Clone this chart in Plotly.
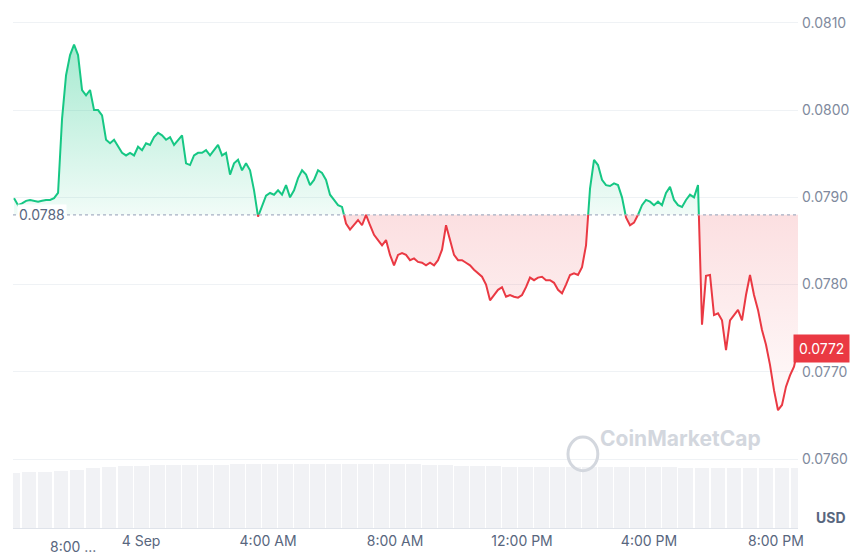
import numpy as np
import pandas as pd
import plotly.graph_objects as go

base = 0.0788
price = [0.07899, 0.07891, 0.07893, 0.07896, 0.07897, 0.07896, 0.07895, 0.07896, 0.07897, 0.07897,
         0.07899, 0.07905, 0.07990, 0.08040, 0.08063, 0.08075, 0.08063, 0.08023, 0.08017, 0.08023,
         0.08000, 0.08000, 0.07994, 0.07966, 0.07962, 0.07966, 0.07958, 0.07951, 0.07948, 0.07951,
         0.07948, 0.07958, 0.07954, 0.07962, 0.07960, 0.07969, 0.07974, 0.07971, 0.07966, 0.07969,
         0.07960, 0.07966, 0.07971, 0.07939, 0.07937, 0.07948, 0.07951, 0.07951, 0.07954, 0.07948,
         0.07954, 0.07960, 0.07948, 0.07951, 0.07926, 0.07939, 0.07943, 0.07931, 0.07939, 0.07931,
         0.07908, 0.07878, 0.07890, 0.07902, 0.07905, 0.07903, 0.07908, 0.07903, 0.07914, 0.07900,
         0.07908, 0.07922, 0.07931, 0.07926, 0.07914, 0.07920, 0.07931, 0.07928, 0.07920, 0.07903,
         0.07897, 0.07891, 0.07889, 0.07870, 0.07863, 0.07868, 0.07874, 0.07868, 0.07880, 0.07868,
         0.07857, 0.07851, 0.07845, 0.07851, 0.07834, 0.07822, 0.07834, 0.07836, 0.07834, 0.07828,
         0.07830, 0.07826, 0.07825, 0.07822, 0.07825, 0.07822, 0.07828, 0.07840, 0.07868, 0.07851,
         0.07834, 0.07828, 0.07828, 0.07825, 0.07822, 0.07817, 0.07813, 0.07809, 0.07800, 0.07782,
         0.07788, 0.07794, 0.07797, 0.07786, 0.07788, 0.07786, 0.07785, 0.07788, 0.07797, 0.07808,
         0.07805, 0.07808, 0.07809, 0.07805, 0.07805, 0.07802, 0.07794, 0.07790, 0.07800, 0.07811,
         0.07813, 0.07811, 0.07820, 0.07845, 0.07910, 0.07943, 0.07937, 0.07920, 0.07914, 0.07913,
         0.07916, 0.07914, 0.07900, 0.07877, 0.07868, 0.07871, 0.07880, 0.07891, 0.07897, 0.07895,
         0.07891, 0.07895, 0.07891, 0.07905, 0.07912, 0.07897, 0.07891, 0.07889, 0.07897, 0.07903,
         0.07900, 0.07914, 0.07754, 0.07810, 0.07811, 0.07765, 0.07767, 0.07759, 0.07725, 0.07759,
         0.07765, 0.07771, 0.07759, 0.07788, 0.07811, 0.07788, 0.07771, 0.07748, 0.07731, 0.07708,
         0.07679, 0.07656, 0.07662, 0.07683, 0.07696, 0.07706, 0.07727]
volume = [57, 58, 58, 59, 60, 62, 63, 64, 64, 65, 65, 65, 65, 65, 66, 66, 66, 66, 66, 66,
          66, 66, 66, 66, 66, 66, 65, 65, 64, 64, 64, 63, 63, 63, 63, 63, 63, 63, 63, 63,
          63, 63, 62, 62, 62, 62, 62, 62, 62, 62]
tick_vals = ["2024-09-04 00:00", "2024-09-04 04:00", "2024-09-04 08:00",
             "2024-09-04 12:00", "2024-09-04 16:00", "2024-09-04 20:00"]
tick_text = ["4 Sep", "4:00 AM", "8:00 AM", "12:00 PM", "4:00 PM", "8:00 PM"]

t0 = pd.Timestamp("2024-09-03 20:00")
step = pd.Timedelta(hours=4 / 31.75)
times = [t0 + i * step for i in range(len(price))]

# insert crossing points so green/red segments meet on the baseline
xs, ys = [times[0]], [price[0]]
for i in range(1, len(price)):
    a, b = price[i - 1], price[i]
    if (a - base) * (b - base) < 0:
        f = (base - a) / (b - a)
        xs.append(times[i - 1] + f * step)
        ys.append(base)
    xs.append(times[i])
    ys.append(b)
ys = np.array(ys)
up = np.where(ys >= base, ys, np.nan)
dn = np.where(ys <= base, ys, np.nan)

GREEN = "#16c784"
RED = "#ea3943"
fig = go.Figure()

vt = pd.date_range(t0 - pd.Timedelta(minutes=2), times[-1], periods=len(volume))
fig.add_trace(go.Bar(x=vt, y=volume, yaxis="y2", marker_color="#f1f2f5",
                     marker_line_width=0, width=(vt[1] - vt[0]).total_seconds() * 1000 * 0.92,
                     hoverinfo="skip", showlegend=False))

fig.add_trace(go.Scatter(x=xs, y=[base] * len(xs), mode="lines", line=dict(width=0),
                         showlegend=False, hoverinfo="skip"))
fig.add_trace(go.Scatter(x=xs, y=np.maximum(ys, base), mode="lines", line=dict(width=0),
                         fill="tonexty", showlegend=False, hoverinfo="skip",
                         fillgradient=dict(type="vertical",
                                           colorscale=[[0, "rgba(22,199,132,0.06)"],
                                                       [1, "rgba(22,199,132,0.38)"]])))
fig.add_trace(go.Scatter(x=xs, y=[base] * len(xs), mode="lines", line=dict(width=0),
                         showlegend=False, hoverinfo="skip"))
fig.add_trace(go.Scatter(x=xs, y=np.minimum(ys, base), mode="lines", line=dict(width=0),
                         fill="tonexty", showlegend=False, hoverinfo="skip",
                         fillgradient=dict(type="vertical",
                                           colorscale=[[0, "rgba(234,57,67,0.02)"],
                                                       [1, "rgba(234,57,67,0.16)"]])))
fig.add_trace(go.Scatter(x=xs, y=up, mode="lines", line=dict(color=GREEN, width=2),
                         connectgaps=False, showlegend=False))
fig.add_trace(go.Scatter(x=xs, y=dn, mode="lines", line=dict(color=RED, width=2),
                         connectgaps=False, showlegend=False))

fig.add_hline(y=base, line=dict(color="#a6b0c3", width=1.2, dash="dot"))

fig.add_annotation(xref="paper", yref="y", x=0.005, y=base, xanchor="left", text="0.0788",
                   showarrow=False, bgcolor="white", font=dict(size=14, color="#58667e"))
fig.add_annotation(xref="paper", yref="y", x=0.994, y=price[-1], xanchor="left", text="0.0772",
                   showarrow=False, bgcolor=RED, borderpad=5,
                   font=dict(size=14, color="white", family="Inter"))
fig.add_annotation(xref="paper", yref="paper", x=0.045, y=-0.015, yanchor="top", text="8:00 ...",
                   showarrow=False, font=dict(size=14, color="#58667e"))
fig.add_annotation(xref="paper", yref="paper", x=1.02, y=0.0, xanchor="left", yanchor="bottom",
                   text="<b>USD</b>", showarrow=False, font=dict(size=14, color="#58667e"))
fig.add_annotation(xref="paper", yref="paper", x=0.745, y=0.145, xanchor="left",
                   text="<b>CoinMarketCap</b>", showarrow=False,
                   font=dict(size=21, color="#d3d7de"))
fig.add_shape(type="circle", xref="paper", yref="paper", x0=0.707, x1=0.745, y0=0.11, y1=0.175,
              line=dict(color="#d3d7de", width=3))

fig.update_layout(
    width=865, height=555, paper_bgcolor="white", plot_bgcolor="white",
    margin=dict(l=5, r=75, t=0, b=35), font=dict(family="Inter", color="#58667e"),
    xaxis=dict(type="date", range=[t0 - pd.Timedelta(minutes=2), times[-1]],
               tickvals=tick_vals, ticktext=tick_text, showgrid=False,
               showline=True, linecolor="#dfe3ea", tickfont=dict(size=14), ticks=""),
    yaxis=dict(side="right", range=[0.07521, 0.08117], dtick=0.001, tick0=0.076,
               tickformat=".4f", gridcolor="#eff2f5", tickfont=dict(size=14, color="#808a9d"),
               zeroline=False, ticklabelstandoff=3),
    yaxis2=dict(overlaying="y", range=[0, 66 * 520 / 64], visible=False),
    bargap=0,
)
fig.write_html("out.html")
